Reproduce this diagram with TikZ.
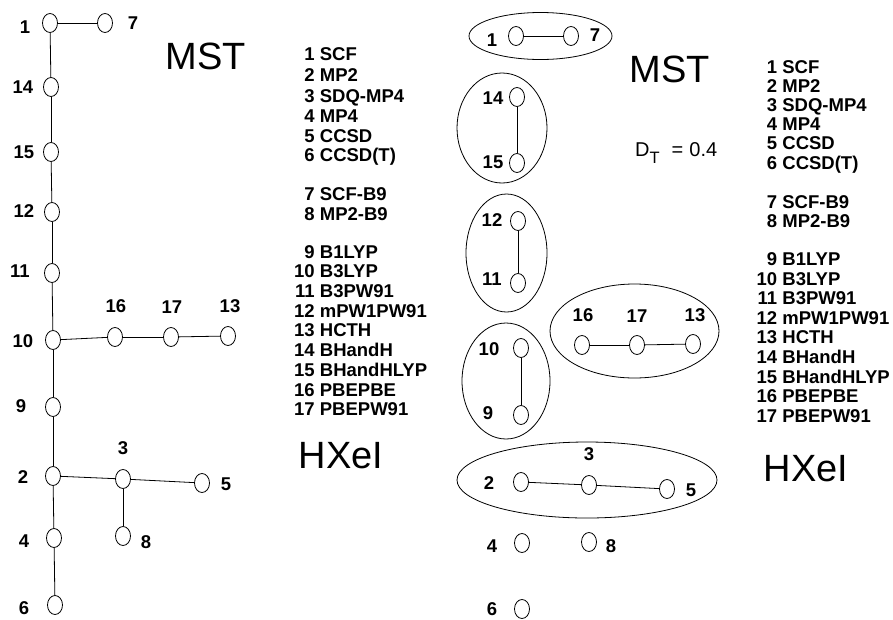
\documentclass[tikz,border=0pt]{standalone}
\usepackage{fontspec}
\usepackage{graphicx}
\setmainfont{Liberation Sans}[BoldFont={Liberation Sans Bold}]
\newfontfamily\boldsans{Liberation Sans Bold}
\usetikzlibrary{shapes.geometric}
\newcommand{\lgline}[2]{\makebox[1.112em][r]{#1} #2}
\begin{document}
\begin{tikzpicture}[x=1pt,y=-1pt,
  v/.style={draw, ellipse, minimum width=15pt, minimum height=19pt, inner sep=0pt, line width=0.8pt},
  lab/.style={inner sep=0pt, font=\boldsans\fontsize{18.5}{18.5}\selectfont},
  grp/.style={draw, ellipse, inner sep=0pt, line width=0.8pt},
  e/.style={line width=0.8pt},
  leg/.style={anchor=base west, inner sep=0pt, font=\boldsans\fontsize{18.5}{18.5}\selectfont},
  big/.style={inner sep=0pt, font=\fontsize{38}{38}\selectfont}]
\useasboundingbox (0,0) rectangle (893,619);

% ---------- left tree ----------
\node[v] (L1) at (50,23) {};
\node[v] (L7) at (105,23) {};
\node[v] (L14) at (51,87) {};
\node[v] (L15) at (51,152) {};
\node[v] (L12) at (52,212) {};
\node[v] (L11) at (52,273) {};
\node[v] (L10) at (53,340) {};
\node[v] (L16) at (115,337) {};
\node[v] (L17) at (171,337) {};
\node[v] (L13) at (228,336) {};
\node[v] (L9) at (53,407) {};
\node[v] (L2) at (53,476) {};
\node[v] (L3) at (123,479) {};
\node[v] (L5) at (202,483) {};
\node[v] (L4) at (54,538) {};
\node[v] (L8) at (123,536) {};
\node[v] (L6) at (55,605) {};

\node[lab] (tL1) at (25,27) {1};
\node[lab] (tL7) at (133,23) {7};
\node[lab] (tL14) at (23,87) {14};
\node[lab] (tL15) at (24,152) {15};
\node[lab] (tL12) at (24,211) {12};
\node[lab] (tL11) at (20,271) {11};
\node[lab] (tL10) at (23,341) {10};
\node[lab] (tL16) at (116,306) {16};
\node[lab] (tL17) at (172,307) {17};
\node[lab] (tL13) at (230,306) {13};
\node[lab] (tL9) at (21,406) {9};
\node[lab] (tL2) at (23,477) {2};
\node[lab] (tL3) at (123,448) {3};
\node[lab] (tL5) at (226,484) {5};
\node[lab] (tL4) at (24,541) {4};
\node[lab] (tL8) at (146,542) {8};
\node[lab] (tL6) at (24,608) {6};

\draw[e] (L1) -- (L7);
\draw[e] (L1) -- (L14);
\draw[e] (L14) -- (L15);
\draw[e] (L15) -- (L12);
\draw[e] (L12) -- (L11);
\draw[e] (L11) -- (L10);
\draw[e] (L10) -- (L16);
\draw[e] (L16) -- (L17);
\draw[e] (L17) -- (L13);
\draw[e] (L10) -- (L9);
\draw[e] (L9) -- (L2);
\draw[e] (L2) -- (L3);
\draw[e] (L3) -- (L5);
\draw[e] (L3) -- (L8);
\draw[e] (L2) -- (L4);
\draw[e] (L4) -- (L6);

% ---------- middle clusters ----------
\node[grp, minimum width=143pt, minimum height=47pt] (G1) at (540.5,36) {};
\node[grp, minimum width=90pt, minimum height=110pt] (G2) at (502,128) {};
\node[grp, minimum width=81pt, minimum height=118pt] (G3) at (506.5,253) {};
\node[grp, minimum width=169pt, minimum height=94pt] (G4) at (634.5,331) {};
\node[grp, minimum width=88pt, minimum height=116pt] (G5) at (506,381) {};
\node[grp, minimum width=260pt, minimum height=76pt] (G6) at (587,480) {};

\node[v] (M1) at (516,36) {};
\node[v] (M7) at (571,36) {};
\node[v] (M14) at (517,97) {};
\node[v] (M15) at (517,163) {};
\node[v] (M12) at (518,221) {};
\node[v] (M11) at (518,283) {};
\node[v] (M16) at (582,345) {};
\node[v] (M17) at (637,345) {};
\node[v] (M13) at (693,344) {};
\node[v] (M10) at (521,348) {};
\node[v] (M9) at (521,415) {};
\node[v] (M2) at (521,482) {};
\node[v] (M3) at (589,485) {};
\node[v] (M5) at (667,489) {};
\node[v] (M4) at (522,543) {};
\node[v] (M8) at (589,542) {};
\node[v] (M6) at (522,609) {};

\node[lab] (tM1) at (492,40) {1};
\node[lab] (tM7) at (595,35) {7};
\node[lab] (tM14) at (493,98) {14};
\node[lab] (tM15) at (493,162) {15};
\node[lab] (tM12) at (492,220) {12};
\node[lab] (tM11) at (492,279) {11};
\node[lab] (tM16) at (583,315) {16};
\node[lab] (tM17) at (637,316) {17};
\node[lab] (tM13) at (695,315) {13};
\node[lab] (tM10) at (489,349) {10};
\node[lab] (tM9) at (488,413) {9};
\node[lab] (tM2) at (489,483) {2};
\node[lab] (tM3) at (589,454) {3};
\node[lab] (tM5) at (691,490) {5};
\node[lab] (tM4) at (492,546) {4};
\node[lab] (tM8) at (611,546) {8};
\node[lab] (tM6) at (492,609.5) {6};

\draw[e] (M1) -- (M7);
\draw[e] (M14) -- (M15);
\draw[e] (M12) -- (M11);
\draw[e] (M16) -- (M17);
\draw[e] (M17) -- (M13);
\draw[e] (M10) -- (M9);
\draw[e] (M2) -- (M3);
\draw[e] (M3) -- (M5);

% ---------- titles ----------
\node[big] (mst1) at (206,56.5) {MST};
\node[big] (mst2) at (670,69) {MST};
\node[big] (hx1) at (341,456) {HXeI};
\node[big] (hx2) at (806,469) {HXeI};
\node[anchor=base west, inner sep=0pt, font=\fontsize{20}{20}\selectfont] (dt) at (635,156.7)
  {D\raisebox{-6.6pt}{\fontsize{16.5}{16.5}\selectfont T}\hspace{12pt}=\hspace{6pt}0.4};

% ---------- legends ----------
\foreach \yy/\n/\t in {54/1/SCF, 75/2/MP2, 96/3/SDQ-MP4, 116/4/MP4, 136/5/CCSD, 155/6/CCSD(T),
  194/7/SCF-B9, 214/8/MP2-B9, 252/9/B1LYP, 271/10/B3LYP, 291/11/B3PW91, 311/12/mPW1PW91,
  330/13/HCTH, 350/14/BHandH, 370/15/BHandHLYP, 390/16/PBEPBE, 409/17/PBEPW91}
  \node[leg] (lgA\n) at (294,\yy+6.6) {\lgline{\n}{\t}};
\foreach \yy/\n/\t in {67/1/SCF, 86/2/MP2, 105/3/SDQ-MP4, 124/4/MP4, 143/5/CCSD, 163/6/CCSD(T),
  202/7/SCF-B9, 221/8/MP2-B9, 259/9/B1LYP, 279/10/B3LYP, 298/11/B3PW91, 318/12/mPW1PW91,
  337/13/HCTH, 357/14/BHandH, 377/15/BHandHLYP, 396/16/PBEPBE, 416/17/PBEPW91}
  \node[leg] (lgB\n) at (756.5,\yy+6.6) {\lgline{\n}{\t}};
\end{tikzpicture}
\end{document}
